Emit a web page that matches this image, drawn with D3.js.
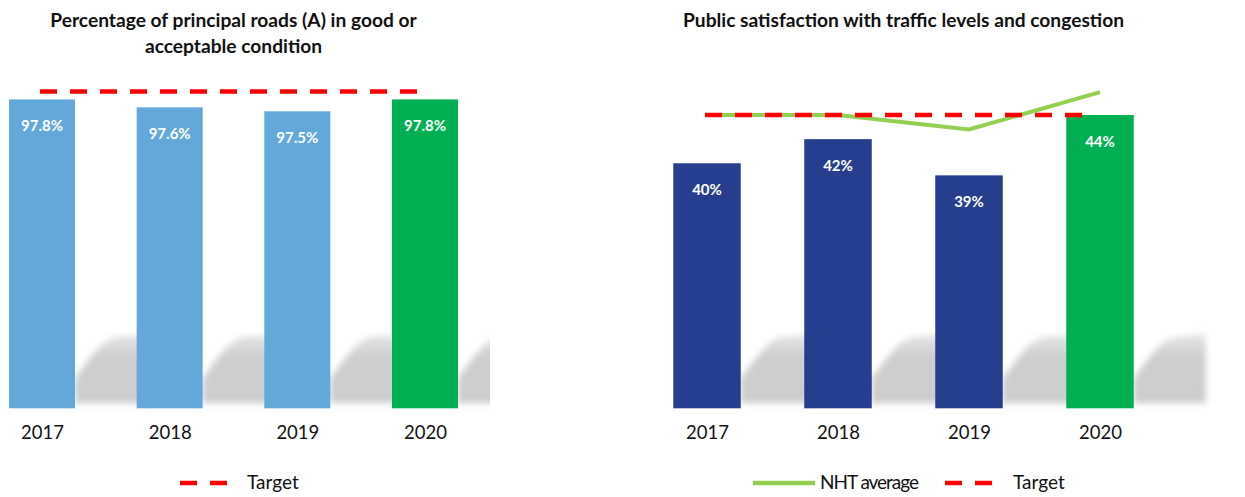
<!DOCTYPE html>
<html><head><meta charset="utf-8">
<script src="https://cdn.jsdelivr.net/npm/d3@7"></script>
<style>
html,body{margin:0;padding:0;background:#fff;}
text{font-family:Lato,"Open Sans",sans-serif;}
</style></head>
<body>
<svg id="chart" width="1245" height="497"></svg>
<script>
// ---- data ----
const years = ["2017", "2018", "2019", "2020"];
const roadValues = [97.8, 97.6, 97.5, 97.8];
const roadTarget = 98;
const satisfactionValues = [40, 42, 39, 44];
const satisfactionTarget = 44;
const nhtAverage = [44, 44, 42.8, 45.9];
const leftTitle = ["Percentage of principal roads (A) in good or", "acceptable condition"];
const rightTitle = ["Public satisfaction with traffic levels and congestion"];

const svg = d3.select("#chart");
const defs = svg.append("defs");
const grad = defs.append("linearGradient").attr("id","shadowGrad").attr("x1",0).attr("y1",0).attr("x2",0).attr("y2",1);
grad.append("stop").attr("offset","0%").attr("stop-color","#e6e6e6");
grad.append("stop").attr("offset","35%").attr("stop-color","#cdcdcd");
grad.append("stop").attr("offset","100%").attr("stop-color","#cccccc");
defs.append("filter").attr("id","blur").attr("x","-20%").attr("y","-20%").attr("width","140%").attr("height","140%")
  .append("feGaussianBlur").attr("stdDeviation", 3);

const baseline = 408.3;

function panel(cfg, id){
  const g = svg.append("g");
  const x = d3.scalePoint().domain(years).range(cfg.xRange);
  const step = x.step();
  const bw = cfg.barWidth;
  const y = d3.scaleLinear().domain(cfg.yDomain).range([baseline, baseline - (cfg.yDomain[1]-cfg.yDomain[0])*cfg.pxPer]);

  defs.append("clipPath").attr("id","clip"+id).append("rect")
    .attr("x", cfg.xRange[0] - 40).attr("y", 0).attr("width", cfg.clipRight - cfg.xRange[0] + 40).attr("height", 497);

  // shadows
  g.append("g").attr("clip-path",`url(#clip${id})`).selectAll("path").data(years).join("path")
    .attr("d", d => {
      const r = x(d) + bw/2;
      const b = baseline;
      return `M${r},${b-5} L${r},${b-30} C${r+14},${b-48} ${r+26},${b-68} ${r+40},${b-71} L${r+step*0.55},${b-74} L${r+step*0.55},${b-5} Z`;
    })
    .attr("fill","url(#shadowGrad)")
    .attr("filter","url(#blur)");

  // bars
  g.append("g").selectAll("rect").data(cfg.values).join("rect")
    .attr("x", (d,i) => x(years[i]) - bw/2)
    .attr("width", bw)
    .attr("y", d => y(d))
    .attr("height", d => baseline - y(d))
    .attr("fill", (d,i) => i === years.length-1 ? "#00b050" : cfg.barColor);

  // value labels
  g.append("g").selectAll("text").data(cfg.values).join("text")
    .attr("x", (d,i) => x(years[i]))
    .attr("y", d => y(d) + 32)
    .attr("text-anchor","middle")
    .attr("fill","#fff")
    .attr("font-weight","bold")
    .attr("font-size", 15)
    .text(d => cfg.fmt(d));

  // NHT line
  if (cfg.line) {
    g.append("path")
      .datum(cfg.line)
      .attr("d", d3.line().x((d,i) => x(years[i])).y(d => y(d)))
      .attr("fill","none").attr("stroke","#92d050").attr("stroke-width",4);
  }

  // target
  g.append("line")
    .attr("x1", x(years[0]) - 2).attr("x2", x(years[years.length-1]) - cfg.targetTrim)
    .attr("y1", y(cfg.target)).attr("y2", y(cfg.target))
    .attr("stroke","#ff0000").attr("stroke-width",4.5)
    .attr("stroke-dasharray","17,13");

  // axis labels
  const axis = d3.axisBottom(x).tickSize(0).tickPadding(0);
  const ax = g.append("g").attr("transform", `translate(0,${baseline})`).call(axis);
  ax.select(".domain").remove();
  ax.selectAll("text").attr("font-size",18.5).attr("fill","#111").attr("dy", 0).attr("y", 31)
    .style("font-family","Lato, sans-serif");

  // title
  const cx = (x(years[0]) + x(years[years.length-1]))/2;
  g.append("g").selectAll("text").data(cfg.title).join("text")
    .attr("x", cx).attr("y", (d,i) => 27 + i*26)
    .attr("text-anchor","middle").attr("font-weight","bold").attr("font-size",19.2).attr("fill","#111")
    .text(d => d);
  return g;
}

panel({
  xRange:[42, 425], barWidth:66, yDomain:[90, 100], pxPer:39.6, clipRight: 490,
  values: roadValues, target: roadTarget, barColor:"#62a8db",
  fmt: d => d.toFixed(1) + "%", title: leftTitle, targetTrim: 6
}, 1);
panel({
  xRange:[707, 1100], barWidth:67.5, yDomain:[19.7, 50], pxPer:12.07, clipRight: 1245,
  values: satisfactionValues, target: satisfactionTarget, barColor:"#253f8e",
  fmt: d => d + "%", title: rightTitle, line: nhtAverage, targetTrim: 7
}, 2);

// legends
const lg = svg.append("g");
lg.append("line").attr("x1",180).attr("x2",228).attr("y1",483).attr("y2",483)
  .attr("stroke","#ff0000").attr("stroke-width",4.5).attr("stroke-dasharray","17,13");
lg.append("text").attr("x",247).attr("y",489).attr("font-size",19).attr("fill","#111").text("Target");

lg.append("line").attr("x1",753).attr("x2",815).attr("y1",483).attr("y2",483)
  .attr("stroke","#92d050").attr("stroke-width",4.5);
lg.append("text").attr("x",820).attr("y",489).attr("font-size",19).attr("fill","#111").attr("textLength",99).text("NHT average");
lg.append("line").attr("x1",945).attr("x2",993).attr("y1",483).attr("y2",483)
  .attr("stroke","#ff0000").attr("stroke-width",4.5).attr("stroke-dasharray","17,13");
lg.append("text").attr("x",1013).attr("y",489).attr("font-size",19).attr("fill","#111").text("Target");
</script>
</body></html>
